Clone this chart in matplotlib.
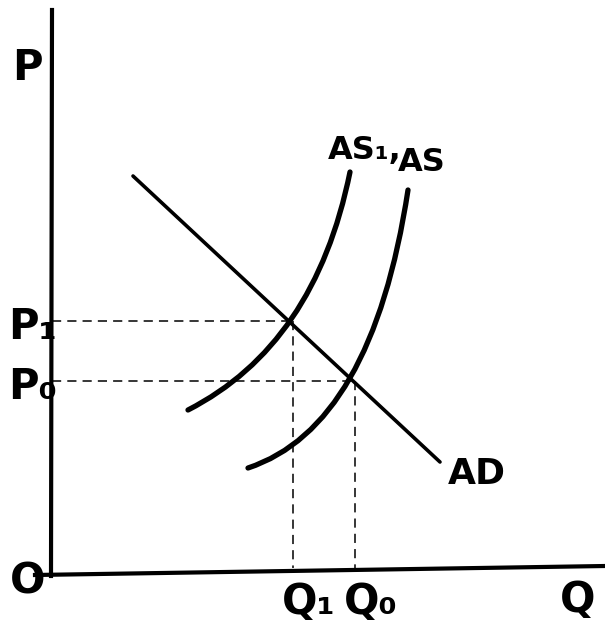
import matplotlib
matplotlib.use('Agg')
from matplotlib import pyplot as plt
from matplotlib.path import Path
from matplotlib.patches import PathPatch

# coordinates (pixel space, y down)
ad_x = [133, 440]
ad_y = [176, 462]
as1_pts = [(188, 410), (315, 345), (350, 172)]
as0_pts = [(248, 468), (372, 427), (408, 190)]
precios = [('P₁', 321), ('P₀', 381)]
cantidades = [('Q₁', 293, 321), ('Q₀', 355, 381)]

fig = plt.figure(figsize=(6.05, 6.44), dpi=100)
ax = fig.add_axes([0, 0, 1, 1])
ax.set_xlim(0, 605)
ax.set_ylim(644, 0)
ax.axis('off')

# ejes
ax.plot([52, 51], [10, 576], color='black', lw=3)
ax.plot([35, 605], [575, 566], color='black', lw=3)

# AD
ax.plot(ad_x, ad_y, color='black', lw=2.6, solid_capstyle='round')

# curvas de oferta
for pts in (as1_pts, as0_pts):
    camino = Path(pts, [Path.MOVETO, Path.CURVE3, Path.CURVE3])
    ax.add_patch(PathPatch(camino, fill=False, lw=3.8, edgecolor='black', capstyle='round'))

# lineas discontinuas
for (nombre, y), (_, xq, _) in zip(precios, cantidades):
    ax.plot([52, xq - 3], [y, y], color='black', lw=1.1, ls=(0, (6, 4)))
for nombre, xq, y in cantidades:
    ax.plot([xq, xq], [y, 568], color='black', lw=1.1, ls=(0, (6, 4)))

fuente = dict(fontweight='bold', color='black', family='DejaVu Sans')
ax.text(12, 68, 'P', fontsize=30, va='center', **fuente)
for nombre, y in precios:
    ax.text(8, y + 6, nombre, fontsize=30, va='center', **fuente)
ax.text(10, 582, 'O', fontsize=30, va='center', **fuente)
for nombre, xq, y in cantidades:
    ax.text(xq - 11, 602, nombre, fontsize=30, va='center', **fuente)
ax.text(560, 600, 'Q', fontsize=30, va='center', **fuente)
ax.text(328, 150, 'AS₁,', fontsize=23, va='center', **fuente)
ax.text(398, 162, 'AS', fontsize=23, va='center', **fuente)
ax.text(448, 474, 'AD', fontsize=26, va='center', **fuente)

fig.savefig('out.png', dpi=100)
